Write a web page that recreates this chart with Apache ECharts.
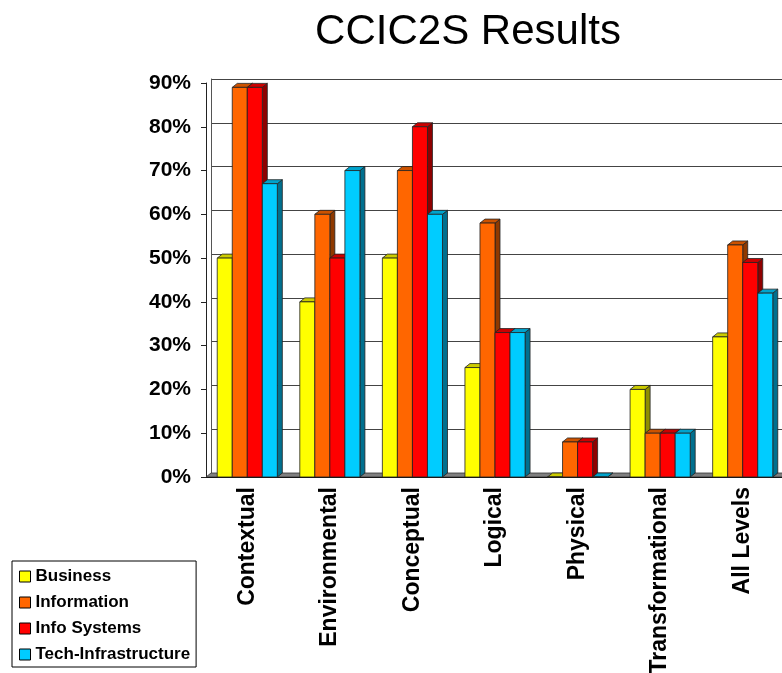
<!DOCTYPE html>
<html>
<head>
<meta charset="utf-8">
<title>CCIC2S Results</title>
<script src="https://cdn.jsdelivr.net/npm/echarts@6/dist/echarts.min.js"></script>
<style>
  html, body { margin: 0; padding: 0; background: #fff; }
  #main { width: 782px; height: 673px; }
</style>
</head>
<body>
<div id="main"></div>
<script>
var categories = ['Contextual', 'Environmental', 'Conceptual', 'Logical', 'Physical', 'Transformational', 'All Levels'];
var seriesNames = ['Business', 'Information', 'Info Systems', 'Tech-Infrastructure'];
var business = [50, 40, 50, 25, 0, 20, 32];
var information = [89, 60, 70, 58, 8, 10, 53];
var infoSystems = [89, 50, 80, 33, 8, 10, 49];
var techInfra = [67, 70, 60, 33, 0, 10, 42];
var yTicks = [0, 10, 20, 30, 40, 50, 60, 70, 80, 90];

// front / top / side colours of the 3d columns
var faceColors = ['#ffff00', '#ff6600', '#ff0000', '#00ccff'];
var topColors = ['#cccc00', '#cc5200', '#cc0000', '#00a3cc'];
var sideColors = ['#8f8f00', '#8f3900', '#8f0000', '#00708f'];

var DX = 5, DY = -4;   // depth offset

var chart = echarts.init(document.getElementById('main'));

function barRender(si) {
  return function (params, api) {
    var c = api.value(0), v = api.value(1);
    var top = api.coord([c, v]);
    var base = api.coord([c, 0]);
    var band = api.size([1, 0])[0];
    var w = band * 0.182;
    var x0 = top[0] + (si - 2) * w;
    var x1 = x0 + w;
    var yt = top[1], yb = base[1];
    var line = { stroke: '#222', lineWidth: 0.8 };
    return {
      type: 'group',
      children: [
        { type: 'polygon', shape: { points: [[x1, yt], [x1 + DX, yt + DY], [x1 + DX, yb + DY], [x1, yb]] },
          style: Object.assign({ fill: sideColors[si] }, line) },
        { type: 'polygon', shape: { points: [[x0, yt], [x1, yt], [x1 + DX, yt + DY], [x0 + DX, yt + DY]] },
          style: Object.assign({ fill: topColors[si] }, line) },
        { type: 'rect', shape: { x: x0, y: yt, width: w, height: yb - yt },
          style: Object.assign({ fill: faceColors[si] }, line) }
      ]
    };
  };
}

function floorRender(params, api) {
  var p = api.coord([0, 0]);
  var band = api.size([1, 0])[0];
  var l = p[0] - band / 2;
  var r = l + band * categories.length;
  var y = p[1];
  return {
    type: 'polygon',
    shape: { points: [[l, y], [r, y], [r + DX, y + DY], [l + DX, y + DY]] },
    style: { fill: '#808080', stroke: '#333', lineWidth: 0.8 }
  };
}

var allValues = [business, information, infoSystems, techInfra];
var series = [{
  type: 'custom',
  xAxisIndex: 0, yAxisIndex: 0,
  renderItem: floorRender,
  data: [[0, 0]],
  encode: { x: 0, y: 1 },
  z: 1,
  silent: true,
  clip: false
}];
allValues.forEach(function (vals, si) {
  series.push({
    name: seriesNames[si],
    type: 'custom',
    xAxisIndex: 0, yAxisIndex: 0,
    renderItem: barRender(si),
    data: vals.map(function (v, i) { return [i, v]; }),
    encode: { x: 0, y: 1 },
    itemStyle: { color: faceColors[si] },
    z: 2,
    clip: false
  });
});

var font = 'Liberation Sans, Arial, sans-serif';

var option = {
  animation: false,
  backgroundColor: '#fff',
  title: {
    text: 'CCIC2S Results',
    left: 468,
    top: 11,
    padding: 0,
    textAlign: 'center',
    textStyle: { fontFamily: font, fontSize: 42, fontWeight: 'normal', color: '#000' }
  },
  legend: {
    orient: 'vertical',
    left: 12,
    top: 561,
    padding: [7, 6, 4, 7],
    itemWidth: 11,
    itemHeight: 11,
    itemGap: 9,
    icon: 'rect',
    borderColor: '#000',
    borderWidth: 1,
    backgroundColor: '#fff',
    itemStyle: { borderColor: '#000', borderWidth: 1 },
    data: seriesNames,
    textStyle: { fontFamily: font, fontSize: 17, fontWeight: 'bold', color: '#000', lineHeight: 17 }
  },
  grid: [
    { left: 206, top: 83, width: 578, height: 394, outerBoundsMode: 'none' },
    { left: 206 + DX, top: 83 + DY, width: 578, height: 394, outerBoundsMode: 'none' }
  ],
  xAxis: [{
    type: 'category',
    gridIndex: 0,
    data: categories,
    axisLine: { lineStyle: { color: '#000', width: 1 } },
    axisTick: { length: 8, lineStyle: { color: '#000' } },
    axisLabel: {
      rotate: 90, margin: 10, interval: 0,
      fontFamily: font, fontSize: 23, fontWeight: 'bold', color: '#000'
    },
    splitLine: { show: false }
  }, {
    type: 'category',
    gridIndex: 1,
    data: categories,
    show: false
  }],
  yAxis: [{
    type: 'value',
    gridIndex: 0,
    min: yTicks[0],
    max: yTicks[yTicks.length - 1],
    interval: 10,
    axisLine: { show: true, lineStyle: { color: '#222', width: 1 } },
    axisTick: { show: true, length: 5, lineStyle: { color: '#222' } },
    axisLabel: {
      margin: 15,
      formatter: '{value}%',
      fontFamily: font, fontSize: 21, fontWeight: 'bold', color: '#000'
    },
    splitLine: { show: false }
  }, {
    type: 'value',
    gridIndex: 1,
    min: yTicks[0],
    max: yTicks[yTicks.length - 1],
    interval: 10,
    axisLine: { show: true, lineStyle: { color: '#555', width: 1 } },
    axisTick: { show: false },
    axisLabel: { show: false },
    splitLine: { show: true, lineStyle: { color: '#444', width: 1 } }
  }],
  series: series
};

chart.setOption(option);
</script>
</body>
</html>
